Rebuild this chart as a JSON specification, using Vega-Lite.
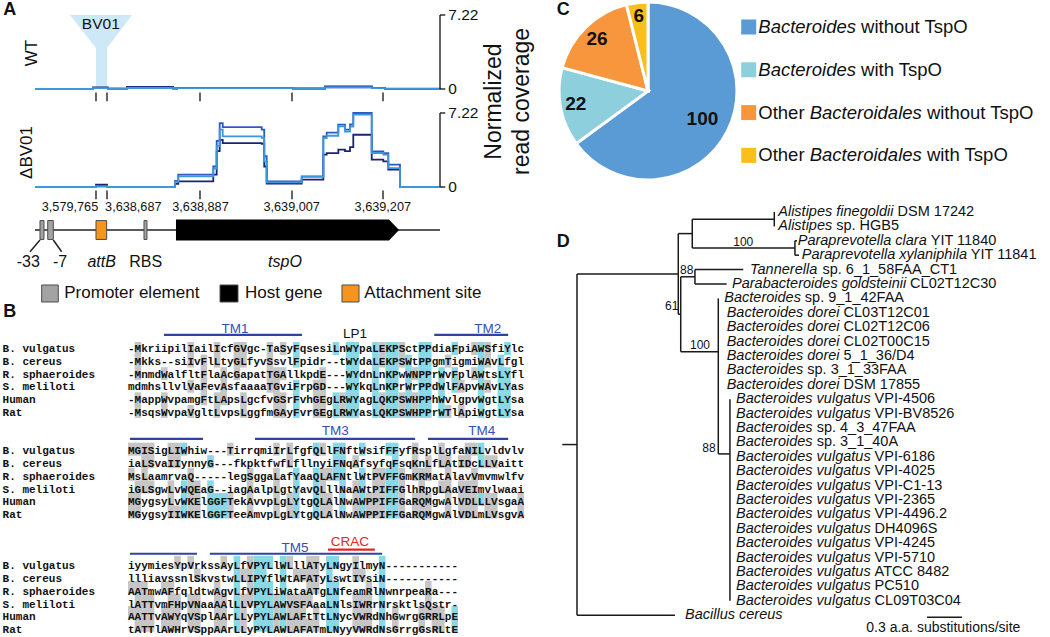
{
"$schema": "https://vega.github.io/schema/vega-lite/v6.json",
"width": 1050, "height": 637,
"autosize": {"type": "none"},
"padding": 0,
"background": "white",
"config": {"view": {"stroke": null}, "text": {"font": "Liberation Sans", "color": "#111111"}},
"resolve": {"scale": {"x": "independent", "y": "independent", "color": "independent", "theta": "independent", "radius": "independent"}},
"datasets": {
"funnel": [{"v":7.22,"l":8.64,"r":23.95},{"v":4.0,"l":15.06,"r":17.78},{"v":0,"l":15.06,"r":17.78}],
"wt": [
{"rep":"r1","b":0,"v":0},{"rep":"r1","b":14.3,"v":0.15},{"rep":"r1","b":18.0,"v":0.03},{"rep":"r1","b":22.7,"v":0.2},{"rep":"r1","b":34.1,"v":0.05},{"rep":"r1","b":35.1,"v":0.08},{"rep":"r1","b":63.7,"v":0.04},{"rep":"r1","b":71.6,"v":0.26},{"rep":"r1","b":83.2,"v":0.08},{"rep":"r1","b":86.4,"v":0.02},{"rep":"r1","b":100,"v":0},
{"rep":"r2","b":0,"v":0},{"rep":"r2","b":14.3,"v":0.1},{"rep":"r2","b":18.0,"v":0.03},{"rep":"r2","b":22.7,"v":0.12},{"rep":"r2","b":34.1,"v":0.06},{"rep":"r2","b":35.1,"v":0.1},{"rep":"r2","b":63.7,"v":0.05},{"rep":"r2","b":71.6,"v":0.17},{"rep":"r2","b":83.2,"v":0.1},{"rep":"r2","b":86.4,"v":0.03},{"rep":"r2","b":100,"v":0},
{"rep":"r3","b":0,"v":0},{"rep":"r3","b":14.3,"v":0.08},{"rep":"r3","b":18.0,"v":0.02},{"rep":"r3","b":22.7,"v":0.1},{"rep":"r3","b":34.1,"v":0.05},{"rep":"r3","b":35.1,"v":0.08},{"rep":"r3","b":63.7,"v":0.04},{"rep":"r3","b":71.6,"v":0.15},{"rep":"r3","b":83.2,"v":0.08},{"rep":"r3","b":86.4,"v":0.02},{"rep":"r3","b":100,"v":0}],
"db": [
{"rep":"r1","b":0,"v":0},{"rep":"r1","b":15.06,"v":0.23},{"rep":"r1","b":17.78,"v":0},{"rep":"r1","b":34.57,"v":0.3},{"rep":"r1","b":35.38,"v":0.55},{"rep":"r1","b":44.02,"v":1.2},{"rep":"r1","b":44.86,"v":3.5},{"rep":"r1","b":45.6,"v":4.6},{"rep":"r1","b":46.35,"v":4.29},{"rep":"r1","b":55.98,"v":4.2},{"rep":"r1","b":56.6,"v":2.0},{"rep":"r1","b":57.21,"v":0.33},{"rep":"r1","b":65.85,"v":0.72},{"rep":"r1","b":71.19,"v":3.15},{"rep":"r1","b":72.02,"v":3.3},{"rep":"r1","b":74.89,"v":3.64},{"rep":"r1","b":76.54,"v":3.5},{"rep":"r1","b":77.78,"v":3.9},{"rep":"r1","b":78.59,"v":5.1},{"rep":"r1","b":83.14,"v":2.67},{"rep":"r1","b":86.0,"v":2.5},{"rep":"r1","b":87.23,"v":1.69},{"rep":"r1","b":90.12,"v":0},{"rep":"r1","b":100,"v":0},
{"rep":"r2","b":0,"v":0},{"rep":"r2","b":15.06,"v":0.1},{"rep":"r2","b":17.78,"v":0},{"rep":"r2","b":34.57,"v":0.6},{"rep":"r2","b":35.38,"v":1.2},{"rep":"r2","b":44.02,"v":2.0},{"rep":"r2","b":44.86,"v":4.5},{"rep":"r2","b":45.6,"v":6.24},{"rep":"r2","b":46.35,"v":5.85},{"rep":"r2","b":55.98,"v":5.6},{"rep":"r2","b":56.6,"v":3.0},{"rep":"r2","b":57.21,"v":0.55},{"rep":"r2","b":65.85,"v":1.04},{"rep":"r2","b":71.19,"v":4.94},{"rep":"r2","b":72.02,"v":5.3},{"rep":"r2","b":74.89,"v":6.08},{"rep":"r2","b":76.54,"v":5.6},{"rep":"r2","b":77.78,"v":6.1},{"rep":"r2","b":78.59,"v":7.22},{"rep":"r2","b":83.14,"v":3.48},{"rep":"r2","b":86.0,"v":3.3},{"rep":"r2","b":87.23,"v":2.18},{"rep":"r2","b":90.12,"v":0},{"rep":"r2","b":100,"v":0},
{"rep":"r3","b":0,"v":0},{"rep":"r3","b":15.06,"v":0.05},{"rep":"r3","b":17.78,"v":0},{"rep":"r3","b":34.57,"v":0.5},{"rep":"r3","b":35.38,"v":1.04},{"rep":"r3","b":44.02,"v":1.8},{"rep":"r3","b":44.86,"v":4.0},{"rep":"r3","b":45.6,"v":5.6},{"rep":"r3","b":46.35,"v":4.94},{"rep":"r3","b":55.98,"v":4.8},{"rep":"r3","b":56.6,"v":2.5},{"rep":"r3","b":57.21,"v":0.45},{"rep":"r3","b":65.85,"v":0.98},{"rep":"r3","b":71.19,"v":4.78},{"rep":"r3","b":72.02,"v":5.0},{"rep":"r3","b":74.89,"v":5.92},{"rep":"r3","b":76.54,"v":5.4},{"rep":"r3","b":77.78,"v":5.9},{"rep":"r3","b":78.59,"v":7.06},{"rep":"r3","b":83.14,"v":3.32},{"rep":"r3","b":86.0,"v":3.15},{"rep":"r3","b":87.23,"v":1.85},{"rep":"r3","b":90.12,"v":0},{"rep":"r3","b":100,"v":0}],
"axr": [{"x":100,"x2":100,"y":0,"y2":7.22},{"x":100,"x2":101.3,"y":7.22,"y2":7.22},{"x":100,"x2":101.3,"y":0,"y2":0},{"x":15.06,"x2":15.06,"y":-0.35,"y2":-1.2},{"x":17.78,"x2":17.78,"y":-0.35,"y2":-1.2},{"x":40.74,"x2":40.74,"y":-0.35,"y2":-1.2},{"x":63.46,"x2":63.46,"y":-0.35,"y2":-1.2},{"x":85.93,"x2":85.93,"y":-0.35,"y2":-1.2}],
"axt": [{"x":102.05,"y":7.22,"t":"7.22"},{"x":102.05,"y":0,"t":"0"}],
"bv": [{"x":16.25,"y":6.32,"t":"BV01"}],
"glines": [{"x":0,"x2":100,"y":0,"y2":0},{"x":1.23,"x2":-1.23,"y":-1.11,"y2":-2.41},{"x":4.52,"x2":6.59,"y":-1.11,"y2":-2.41}],
"feat": [{"x":1.23,"x2":2.22,"y":-1.05,"y2":1.05,"k":"P"},{"x":3.14,"x2":4.52,"y":-1.05,"y2":1.05,"k":"P"},{"x":15.06,"x2":17.7,"y":-1.05,"y2":1.05,"k":"A"},{"x":26.91,"x2":27.65,"y":-1.05,"y2":1.05,"k":"P"},{"x":1.65,"x2":5.75,"y":-6.11,"y2":-8.0,"k":"P"},{"x":45.68,"x2":50.12,"y":-6.11,"y2":-8.0,"k":"H"},{"x":75.8,"x2":80.0,"y":-6.11,"y2":-8.0,"k":"A"}],
"arrow": [{"x":34.81,"lo":-1.17,"hi":1.17},{"x":87.41,"lo":-1.17,"hi":1.17},{"x":89.88,"lo":0,"hi":0}],
"gtick": [{"x":8.64,"t":"3,579,765"},{"x":24.27,"t":"3,638,687"},{"x":40.86,"t":"3,638,887"},{"x":63.38,"t":"3,639,007"},{"x":85.88,"t":"3,639,207"}],
"gfl": [{"x":-1.65,"t":"-33","it":0},{"x":6.17,"t":"-7","it":0},{"x":16.47,"t":"attB","it":1},{"x":27.33,"t":"RBS","it":0},{"x":61.73,"t":"tspO","it":1}],
"gleg": [{"x":7.23,"t":"Promoter element"},{"x":51.85,"t":"Host gene"},{"x":81.31,"t":"Attachment site"}],
"aln": [
{"l":0,"n":"B. vulgatus","q":"-MkriipilIailIcfGVgc-TaSyFqsesiLnWYpaLEKPSctPPdiaFpiAWSfiYlc"},
{"l":1,"n":"B. cereus","q":"-Mkks--siIvFlLtyGLfyvSsvlFpidr--tWYdaLEKPSWtPPgmTigmiWAvLfgl"},
{"l":2,"n":"R. sphaeroides","q":"-MnmdWalfltFlaAcGapatTGAllkpdE---WYdnLnKPwWNPPrWvFplAWtsLYfl"},
{"l":3,"n":"S. meliloti","q":"mdmhsllvlVaFevAsfaaaaTGviFrpGD---WYkqLnKPrWrPPdWlFApvWAvLYas"},
{"l":4,"n":"Human","q":"-MappWvpamgFtLApsLgcfvGSrFvhGEgLRWYagLQKPSWHPPhWvlgpvWgtLYsa"},
{"l":5,"n":"Rat","q":"-MsqsWvpaVgltLvpsLggfmGAyFvrGEgLRWYasLQKPSWHPPrWTlApiWgtLYsa"},
{"l":8,"n":"B. vulgatus","q":"MGISigLIWhiw---TirrqmiIrLfgfQLlFNftWsifFFyfRsplLgfaNILvldvlv"},
{"l":9,"n":"B. cereus","q":"iaLSvaIIynnyG---fkpktfwfLfllnyiFNqAfsyfqFsqKnLfLAtIDcLLVaitt"},
{"l":10,"n":"R. sphaeroides","q":"MsLaamrvaQ-----legSggaLafYaaQLAFNtlWtPVFFGmKRMatAlavVmvmwlfv"},
{"l":11,"n":"S. meliloti","q":"iGLSgwLvWQEaG--iagAalpLgtYavQLllNaAWtPIFFGlhRpgLAaVEImvlwaai"},
{"l":12,"n":"Human","q":"MGygsyLvWKElGGFTekAvvpLgLYtgQLAlNwAWPPIFFGaRQMgwAlVDLLLVsgaA"},
{"l":13,"n":"Rat","q":"MGygsyIIWKElGGFTeeAmvpLgLYtgQLAlNwAWPPIFFGaRQMgwAlVDLmLVsgvA"},
{"l":17,"n":"B. vulgatus","q":"iyymiesYpVrkssAyLfVPYLlWLllATyLNgyIlmyN-----------"},
{"l":18,"n":"B. cereus","q":"llliavssnlSkvstwLLIPYflWtAFATyLswtIYsiN-----------"},
{"l":19,"n":"R. sphaeroides","q":"AATmwAFfqldtwAgvLfVPYLiWataATgLNfeamRlNwnrpeaRa---"},
{"l":20,"n":"S. meliloti","q":"lATTvmFHpVNaaAAlLLVPYLAWVSFAaaLNlsIWRrNrsktlsQstr-"},
{"l":21,"n":"Human","q":"AATTvAWYqVSplAArLLyPYLAWLAFtTtLNycVWRdNhGwrgGRRLpE"},
{"l":22,"n":"Rat","q":"tATTlAWHrVSppAArLLyPYLAWLAFATmLNyyVWRdNsGrrgGsRLtE"}],
"hl": [
{"l":0,"s":1,"t":2,"h":"g"},{"l":0,"s":9,"t":10,"h":"g"},{"l":0,"s":13,"t":14,"h":"g"},{"l":0,"s":16,"t":18,"h":"g"},{"l":0,"s":21,"t":22,"h":"g"},{"l":0,"s":23,"t":24,"h":"g"},{"l":0,"s":25,"t":26,"h":"c"},{"l":0,"s":31,"t":32,"h":"c"},{"l":0,"s":33,"t":35,"h":"c"},{"l":0,"s":37,"t":38,"h":"c"},{"l":0,"s":38,"t":39,"h":"g"},{"l":0,"s":39,"t":41,"h":"c"},{"l":0,"s":41,"t":42,"h":"g"},{"l":0,"s":44,"t":46,"h":"c"},{"l":0,"s":49,"t":50,"h":"c"},{"l":0,"s":52,"t":53,"h":"g"},{"l":0,"s":53,"t":54,"h":"c"},{"l":0,"s":54,"t":55,"h":"g"},{"l":0,"s":57,"t":58,"h":"c"},
{"l":1,"s":1,"t":2,"h":"g"},{"l":1,"s":9,"t":10,"h":"g"},{"l":1,"s":11,"t":12,"h":"g"},{"l":1,"s":13,"t":14,"h":"g"},{"l":1,"s":16,"t":18,"h":"g"},{"l":1,"s":21,"t":22,"h":"g"},{"l":1,"s":25,"t":26,"h":"c"},{"l":1,"s":33,"t":35,"h":"c"},{"l":1,"s":37,"t":38,"h":"c"},{"l":1,"s":38,"t":39,"h":"g"},{"l":1,"s":39,"t":41,"h":"c"},{"l":1,"s":41,"t":42,"h":"g"},{"l":1,"s":42,"t":43,"h":"c"},{"l":1,"s":44,"t":46,"h":"c"},{"l":1,"s":48,"t":49,"h":"g"},{"l":1,"s":53,"t":54,"h":"c"},{"l":1,"s":54,"t":55,"h":"g"},{"l":1,"s":56,"t":57,"h":"c"},
{"l":2,"s":1,"t":2,"h":"g"},{"l":2,"s":5,"t":6,"h":"g"},{"l":2,"s":11,"t":12,"h":"g"},{"l":2,"s":14,"t":15,"h":"g"},{"l":2,"s":16,"t":17,"h":"g"},{"l":2,"s":21,"t":24,"h":"g"},{"l":2,"s":29,"t":30,"h":"g"},{"l":2,"s":33,"t":35,"h":"c"},{"l":2,"s":37,"t":38,"h":"c"},{"l":2,"s":39,"t":41,"h":"c"},{"l":2,"s":42,"t":43,"h":"c"},{"l":2,"s":43,"t":44,"h":"g"},{"l":2,"s":44,"t":46,"h":"c"},{"l":2,"s":47,"t":48,"h":"c"},{"l":2,"s":49,"t":50,"h":"c"},{"l":2,"s":52,"t":53,"h":"g"},{"l":2,"s":53,"t":54,"h":"c"},{"l":2,"s":56,"t":58,"h":"c"},
{"l":3,"s":9,"t":10,"h":"g"},{"l":3,"s":11,"t":12,"h":"g"},{"l":3,"s":14,"t":15,"h":"g"},{"l":3,"s":21,"t":23,"h":"g"},{"l":3,"s":25,"t":26,"h":"c"},{"l":3,"s":28,"t":30,"h":"g"},{"l":3,"s":33,"t":35,"h":"c"},{"l":3,"s":37,"t":38,"h":"c"},{"l":3,"s":39,"t":41,"h":"c"},{"l":3,"s":42,"t":43,"h":"c"},{"l":3,"s":44,"t":46,"h":"c"},{"l":3,"s":47,"t":48,"h":"c"},{"l":3,"s":49,"t":50,"h":"c"},{"l":3,"s":50,"t":51,"h":"g"},{"l":3,"s":53,"t":54,"h":"c"},{"l":3,"s":54,"t":55,"h":"g"},{"l":3,"s":56,"t":58,"h":"c"},
{"l":4,"s":1,"t":2,"h":"g"},{"l":4,"s":5,"t":6,"h":"g"},{"l":4,"s":11,"t":12,"h":"g"},{"l":4,"s":13,"t":15,"h":"g"},{"l":4,"s":17,"t":18,"h":"g"},{"l":4,"s":22,"t":24,"h":"g"},{"l":4,"s":25,"t":26,"h":"c"},{"l":4,"s":28,"t":30,"h":"g"},{"l":4,"s":31,"t":32,"h":"c"},{"l":4,"s":32,"t":33,"h":"g"},{"l":4,"s":33,"t":35,"h":"c"},{"l":4,"s":37,"t":38,"h":"c"},{"l":4,"s":38,"t":39,"h":"g"},{"l":4,"s":39,"t":41,"h":"c"},{"l":4,"s":41,"t":42,"h":"g"},{"l":4,"s":42,"t":43,"h":"c"},{"l":4,"s":43,"t":44,"h":"g"},{"l":4,"s":44,"t":46,"h":"c"},{"l":4,"s":47,"t":48,"h":"c"},{"l":4,"s":53,"t":54,"h":"c"},{"l":4,"s":56,"t":58,"h":"c"},
{"l":5,"s":1,"t":2,"h":"g"},{"l":5,"s":5,"t":6,"h":"g"},{"l":5,"s":9,"t":10,"h":"g"},{"l":5,"s":13,"t":14,"h":"g"},{"l":5,"s":17,"t":18,"h":"g"},{"l":5,"s":22,"t":24,"h":"g"},{"l":5,"s":25,"t":26,"h":"c"},{"l":5,"s":28,"t":30,"h":"g"},{"l":5,"s":31,"t":32,"h":"c"},{"l":5,"s":32,"t":33,"h":"g"},{"l":5,"s":33,"t":35,"h":"c"},{"l":5,"s":37,"t":38,"h":"c"},{"l":5,"s":38,"t":39,"h":"g"},{"l":5,"s":39,"t":41,"h":"c"},{"l":5,"s":41,"t":42,"h":"g"},{"l":5,"s":42,"t":43,"h":"c"},{"l":5,"s":43,"t":44,"h":"g"},{"l":5,"s":44,"t":46,"h":"c"},{"l":5,"s":47,"t":48,"h":"c"},{"l":5,"s":48,"t":49,"h":"g"},{"l":5,"s":50,"t":51,"h":"g"},{"l":5,"s":53,"t":54,"h":"c"},{"l":5,"s":56,"t":58,"h":"c"},
{"l":8,"s":0,"t":4,"h":"g"},{"l":8,"s":6,"t":8,"h":"g"},{"l":8,"s":8,"t":9,"h":"c"},{"l":8,"s":15,"t":16,"h":"g"},{"l":8,"s":22,"t":23,"h":"g"},{"l":8,"s":24,"t":25,"h":"g"},{"l":8,"s":28,"t":29,"h":"c"},{"l":8,"s":29,"t":30,"h":"g"},{"l":8,"s":31,"t":33,"h":"c"},{"l":8,"s":35,"t":36,"h":"c"},{"l":8,"s":39,"t":41,"h":"c"},{"l":8,"s":43,"t":44,"h":"g"},{"l":8,"s":47,"t":48,"h":"g"},{"l":8,"s":51,"t":53,"h":"g"},{"l":8,"s":53,"t":54,"h":"c"},
{"l":9,"s":2,"t":4,"h":"g"},{"l":9,"s":6,"t":8,"h":"g"},{"l":9,"s":12,"t":13,"h":"c"},{"l":9,"s":24,"t":25,"h":"g"},{"l":9,"s":31,"t":33,"h":"c"},{"l":9,"s":34,"t":35,"h":"g"},{"l":9,"s":40,"t":41,"h":"c"},{"l":9,"s":43,"t":44,"h":"g"},{"l":9,"s":45,"t":46,"h":"g"},{"l":9,"s":47,"t":49,"h":"g"},{"l":9,"s":50,"t":52,"h":"g"},{"l":9,"s":53,"t":54,"h":"c"},{"l":9,"s":54,"t":56,"h":"g"},
{"l":10,"s":0,"t":1,"h":"g"},{"l":10,"s":2,"t":3,"h":"g"},{"l":10,"s":9,"t":10,"h":"g"},{"l":10,"s":18,"t":19,"h":"g"},{"l":10,"s":22,"t":23,"h":"g"},{"l":10,"s":25,"t":26,"h":"c"},{"l":10,"s":28,"t":29,"h":"c"},{"l":10,"s":29,"t":31,"h":"g"},{"l":10,"s":31,"t":33,"h":"c"},{"l":10,"s":35,"t":36,"h":"c"},{"l":10,"s":37,"t":39,"h":"g"},{"l":10,"s":39,"t":41,"h":"c"},{"l":10,"s":41,"t":42,"h":"g"},{"l":10,"s":43,"t":46,"h":"g"},{"l":10,"s":48,"t":49,"h":"g"},{"l":10,"s":52,"t":53,"h":"g"},
{"l":11,"s":1,"t":4,"h":"g"},{"l":11,"s":6,"t":7,"h":"g"},{"l":11,"s":8,"t":9,"h":"c"},{"l":11,"s":9,"t":11,"h":"g"},{"l":11,"s":12,"t":13,"h":"c"},{"l":11,"s":18,"t":19,"h":"g"},{"l":11,"s":22,"t":23,"h":"g"},{"l":11,"s":25,"t":26,"h":"c"},{"l":11,"s":28,"t":29,"h":"c"},{"l":11,"s":29,"t":30,"h":"g"},{"l":11,"s":32,"t":33,"h":"c"},{"l":11,"s":34,"t":35,"h":"g"},{"l":11,"s":35,"t":36,"h":"c"},{"l":11,"s":37,"t":39,"h":"g"},{"l":11,"s":39,"t":41,"h":"c"},{"l":11,"s":41,"t":42,"h":"g"},{"l":11,"s":44,"t":45,"h":"g"},{"l":11,"s":47,"t":49,"h":"g"},{"l":11,"s":50,"t":53,"h":"g"},
{"l":12,"s":0,"t":2,"h":"g"},{"l":12,"s":6,"t":7,"h":"g"},{"l":12,"s":8,"t":9,"h":"c"},{"l":12,"s":9,"t":11,"h":"g"},{"l":12,"s":12,"t":15,"h":"c"},{"l":12,"s":15,"t":16,"h":"g"},{"l":12,"s":18,"t":19,"h":"g"},{"l":12,"s":22,"t":23,"h":"g"},{"l":12,"s":24,"t":25,"h":"g"},{"l":12,"s":25,"t":26,"h":"c"},{"l":12,"s":28,"t":29,"h":"c"},{"l":12,"s":29,"t":31,"h":"g"},{"l":12,"s":32,"t":33,"h":"c"},{"l":12,"s":34,"t":35,"h":"g"},{"l":12,"s":35,"t":36,"h":"c"},{"l":12,"s":36,"t":39,"h":"g"},{"l":12,"s":39,"t":41,"h":"c"},{"l":12,"s":41,"t":42,"h":"g"},{"l":12,"s":43,"t":46,"h":"g"},{"l":12,"s":48,"t":49,"h":"g"},{"l":12,"s":50,"t":53,"h":"g"},{"l":12,"s":53,"t":54,"h":"c"},{"l":12,"s":54,"t":56,"h":"g"},{"l":12,"s":59,"t":60,"h":"g"},
{"l":13,"s":0,"t":2,"h":"g"},{"l":13,"s":6,"t":8,"h":"g"},{"l":13,"s":8,"t":9,"h":"c"},{"l":13,"s":9,"t":11,"h":"g"},{"l":13,"s":12,"t":15,"h":"c"},{"l":13,"s":15,"t":16,"h":"g"},{"l":13,"s":18,"t":19,"h":"g"},{"l":13,"s":22,"t":23,"h":"g"},{"l":13,"s":24,"t":25,"h":"g"},{"l":13,"s":25,"t":26,"h":"c"},{"l":13,"s":28,"t":29,"h":"c"},{"l":13,"s":29,"t":31,"h":"g"},{"l":13,"s":32,"t":33,"h":"c"},{"l":13,"s":34,"t":35,"h":"g"},{"l":13,"s":35,"t":36,"h":"c"},{"l":13,"s":36,"t":39,"h":"g"},{"l":13,"s":39,"t":41,"h":"c"},{"l":13,"s":41,"t":42,"h":"g"},{"l":13,"s":43,"t":46,"h":"g"},{"l":13,"s":48,"t":49,"h":"g"},{"l":13,"s":50,"t":53,"h":"g"},{"l":13,"s":54,"t":56,"h":"g"},{"l":13,"s":59,"t":60,"h":"g"},
{"l":17,"s":7,"t":8,"h":"g"},{"l":17,"s":9,"t":10,"h":"g"},{"l":17,"s":14,"t":15,"h":"g"},{"l":17,"s":16,"t":17,"h":"c"},{"l":17,"s":18,"t":19,"h":"g"},{"l":17,"s":19,"t":22,"h":"c"},{"l":17,"s":23,"t":24,"h":"c"},{"l":17,"s":24,"t":25,"h":"g"},{"l":17,"s":27,"t":29,"h":"g"},{"l":17,"s":30,"t":32,"h":"c"},{"l":17,"s":34,"t":35,"h":"g"},{"l":17,"s":38,"t":39,"h":"c"},
{"l":18,"s":10,"t":11,"h":"g"},{"l":18,"s":16,"t":17,"h":"c"},{"l":18,"s":17,"t":19,"h":"g"},{"l":18,"s":19,"t":21,"h":"c"},{"l":18,"s":23,"t":24,"h":"c"},{"l":18,"s":25,"t":29,"h":"g"},{"l":18,"s":30,"t":31,"h":"c"},{"l":18,"s":34,"t":36,"h":"g"},{"l":18,"s":38,"t":39,"h":"c"},
{"l":19,"s":0,"t":3,"h":"g"},{"l":19,"s":5,"t":7,"h":"g"},{"l":19,"s":13,"t":14,"h":"g"},{"l":19,"s":16,"t":17,"h":"c"},{"l":19,"s":18,"t":19,"h":"g"},{"l":19,"s":19,"t":22,"h":"c"},{"l":19,"s":23,"t":24,"h":"c"},{"l":19,"s":27,"t":29,"h":"g"},{"l":19,"s":30,"t":32,"h":"c"},{"l":19,"s":36,"t":37,"h":"g"},{"l":19,"s":38,"t":39,"h":"c"},{"l":19,"s":45,"t":46,"h":"g"},
{"l":20,"s":1,"t":4,"h":"g"},{"l":20,"s":6,"t":8,"h":"g"},{"l":20,"s":9,"t":11,"h":"g"},{"l":20,"s":13,"t":15,"h":"g"},{"l":20,"s":16,"t":17,"h":"c"},{"l":20,"s":17,"t":19,"h":"g"},{"l":20,"s":19,"t":22,"h":"c"},{"l":20,"s":22,"t":23,"h":"g"},{"l":20,"s":23,"t":24,"h":"c"},{"l":20,"s":24,"t":28,"h":"g"},{"l":20,"s":30,"t":32,"h":"c"},{"l":20,"s":34,"t":37,"h":"g"},{"l":20,"s":38,"t":39,"h":"c"},{"l":20,"s":45,"t":46,"h":"g"},
{"l":21,"s":0,"t":4,"h":"g"},{"l":21,"s":5,"t":8,"h":"g"},{"l":21,"s":9,"t":11,"h":"g"},{"l":21,"s":13,"t":15,"h":"g"},{"l":21,"s":16,"t":17,"h":"c"},{"l":21,"s":17,"t":18,"h":"g"},{"l":21,"s":19,"t":22,"h":"c"},{"l":21,"s":22,"t":23,"h":"g"},{"l":21,"s":23,"t":24,"h":"c"},{"l":21,"s":24,"t":27,"h":"g"},{"l":21,"s":28,"t":29,"h":"g"},{"l":21,"s":30,"t":32,"h":"c"},{"l":21,"s":34,"t":37,"h":"g"},{"l":21,"s":38,"t":39,"h":"c"},{"l":21,"s":40,"t":41,"h":"g"},{"l":21,"s":44,"t":48,"h":"g"},{"l":21,"s":49,"t":50,"h":"c"},
{"l":22,"s":1,"t":4,"h":"g"},{"l":22,"s":5,"t":8,"h":"g"},{"l":22,"s":9,"t":11,"h":"g"},{"l":22,"s":13,"t":15,"h":"g"},{"l":22,"s":16,"t":17,"h":"c"},{"l":22,"s":17,"t":18,"h":"g"},{"l":22,"s":19,"t":22,"h":"c"},{"l":22,"s":22,"t":23,"h":"g"},{"l":22,"s":23,"t":24,"h":"c"},{"l":22,"s":24,"t":29,"h":"g"},{"l":22,"s":30,"t":32,"h":"c"},{"l":22,"s":34,"t":37,"h":"g"},{"l":22,"s":38,"t":39,"h":"c"},{"l":22,"s":40,"t":41,"h":"g"},{"l":22,"s":44,"t":45,"h":"g"},{"l":22,"s":46,"t":48,"h":"g"},{"l":22,"s":49,"t":50,"h":"c"}],
"tmr": [{"l":-1.1,"s":5.45,"t":26.36,"k":"TM"},{"l":-1.1,"s":46.4,"t":57.6,"k":"TM"},{"l":7.03,"s":0.3,"t":11.36,"k":"TM"},{"l":7.03,"s":19.24,"t":43.5,"k":"TM"},{"l":7.03,"s":45.45,"t":57.6,"k":"TM"},{"l":16.02,"s":0.3,"t":10.45,"k":"TM"},{"l":16.02,"s":12.4,"t":38.5,"k":"TM"},{"l":15.7,"s":30.3,"t":37.4,"k":"CRAC"}],
"tmt": [{"l":-1.56,"c":16.2,"t":"TM1","k":"TM"},{"l":-1.2,"c":34.4,"t":"LP1","k":"LP"},{"l":-1.56,"c":54.5,"t":"TM2","k":"TM"},{"l":6.43,"c":31.4,"t":"TM3","k":"TM"},{"l":6.43,"c":53.6,"t":"TM4","k":"TM"},{"l":15.55,"c":25.3,"t":"TM5","k":"TM"},{"l":15.1,"c":33.6,"t":"CRAC","k":"CRAC"}],
"pie": [{"cat":"Bacteroides without TspO","n":100,"o":1,"i":0},{"cat":"Bacteroides with TspO","n":22,"o":2,"i":1},{"cat":"Other Bacteroidales without TspO","n":26,"o":3,"i":2},{"cat":"Other Bacteroidales with TspO","n":6,"o":4,"i":3}],
"leg": [{"i":0,"x":1.2393,"t":"Bacteroides","it":1},{"i":0,"x":2.3944,"t":"without TspO","it":0},{"i":1,"x":1.2393,"t":"Bacteroides","it":1},{"i":1,"x":2.3944,"t":"with TspO","it":0},{"i":2,"x":1.2393,"t":"Other","it":0},{"i":2,"x":1.8169,"t":"Bacteroidales","it":1},{"i":2,"x":3.1337,"t":"without TspO","it":0},{"i":3,"x":1.2393,"t":"Other","it":0},{"i":3,"x":1.8169,"t":"Bacteroidales","it":1},{"i":3,"x":3.1337,"t":"with TspO","it":0}],
"tree": [{"x1":-0.126,"x2":0,"y1":16.15,"y2":16.15},{"x1":0,"x2":0,"y1":4.3,"y2":28},{"x1":0,"x2":0.868,"y1":4.3,"y2":4.3},{"x1":0,"x2":0.84,"y1":28,"y2":28},{"x1":0.868,"x2":0.868,"y1":1.5,"y2":7.1},{"x1":0.868,"x2":0.988,"y1":1.5,"y2":1.5},{"x1":0.868,"x2":0.889,"y1":7.1,"y2":7.1},{"x1":0.988,"x2":0.988,"y1":0.5,"y2":2.5},{"x1":0.988,"x2":1.691,"y1":0.5,"y2":0.5},{"x1":0.988,"x2":1.868,"y1":2.5,"y2":2.5},{"x1":1.691,"x2":1.691,"y1":0,"y2":1},{"x1":1.868,"x2":1.868,"y1":2,"y2":3},{"x1":1.868,"x2":1.886,"y1":2,"y2":2},{"x1":1.868,"x2":1.903,"y1":3,"y2":3},{"x1":0.889,"x2":0.889,"y1":4.5,"y2":9.7},{"x1":0.889,"x2":1.011,"y1":4.5,"y2":4.5},{"x1":0.889,"x2":1.211,"y1":9.7,"y2":9.7},{"x1":1.011,"x2":1.011,"y1":4,"y2":5},{"x1":1.011,"x2":1.425,"y1":4,"y2":4},{"x1":1.011,"x2":1.283,"y1":5,"y2":5},{"x1":1.211,"x2":1.211,"y1":6,"y2":16.8},{"x1":1.211,"x2":1.311,"y1":16.8,"y2":16.8},{"x1":1.311,"x2":1.311,"y1":13,"y2":27}],
"tips": [
{"i":0,"lx":1.725,"sx":2.748,"g":"Alistipes finegoldii","s":"DSM 17242"},
{"i":1,"lx":1.725,"sx":2.222,"g":"Alistipes","s":"sp. HGB5"},
{"i":2,"lx":1.892,"sx":3.032,"g":"Paraprevotella clara","s":"YIT 11840"},
{"i":3,"lx":1.926,"sx":3.376,"g":"Paraprevotella xylaniphila","s":"YIT 11841"},
{"i":4,"lx":1.483,"sx":2.104,"g":"Tannerella","s":"sp. 6_1_58FAA_CT1"},
{"i":5,"lx":1.329,"sx":2.855,"g":"Parabacteroides goldsteinii","s":"CL02T12C30"},
{"i":6,"lx":1.263,"sx":1.953,"g":"Bacteroides","s":"sp. 9_1_42FAA"},
{"i":7,"lx":1.283,"sx":2.285,"g":"Bacteroides dorei","s":"CL03T12C01"},
{"i":8,"lx":1.283,"sx":2.285,"g":"Bacteroides dorei","s":"CL02T12C06"},
{"i":9,"lx":1.283,"sx":2.285,"g":"Bacteroides dorei","s":"CL02T00C15"},
{"i":10,"lx":1.283,"sx":2.285,"g":"Bacteroides dorei","s":"5_1_36/D4"},
{"i":11,"lx":1.283,"sx":1.974,"g":"Bacteroides","s":"sp. 3_1_33FAA"},
{"i":12,"lx":1.283,"sx":2.285,"g":"Bacteroides dorei","s":"DSM 17855"},
{"i":13,"lx":1.363,"sx":2.551,"g":"Bacteroides vulgatus","s":"VPI-4506"},
{"i":14,"lx":1.363,"sx":2.551,"g":"Bacteroides vulgatus","s":"VPI-BV8526"},
{"i":15,"lx":1.363,"sx":2.054,"g":"Bacteroides","s":"sp. 4_3_47FAA"},
{"i":16,"lx":1.363,"sx":2.054,"g":"Bacteroides","s":"sp. 3_1_40A"},
{"i":17,"lx":1.363,"sx":2.551,"g":"Bacteroides vulgatus","s":"VPI-6186"},
{"i":18,"lx":1.363,"sx":2.551,"g":"Bacteroides vulgatus","s":"VPI-4025"},
{"i":19,"lx":1.363,"sx":2.551,"g":"Bacteroides vulgatus","s":"VPI-C1-13"},
{"i":20,"lx":1.363,"sx":2.551,"g":"Bacteroides vulgatus","s":"VPI-2365"},
{"i":21,"lx":1.363,"sx":2.551,"g":"Bacteroides vulgatus","s":"VPI-4496.2"},
{"i":22,"lx":1.363,"sx":2.551,"g":"Bacteroides vulgatus","s":"DH4096S"},
{"i":23,"lx":1.363,"sx":2.551,"g":"Bacteroides vulgatus","s":"VPI-4245"},
{"i":24,"lx":1.363,"sx":2.551,"g":"Bacteroides vulgatus","s":"VPI-5710"},
{"i":25,"lx":1.363,"sx":2.551,"g":"Bacteroides vulgatus","s":"ATCC 8482"},
{"i":26,"lx":1.363,"sx":2.551,"g":"Bacteroides vulgatus","s":"PC510"},
{"i":27,"lx":1.363,"sx":2.551,"g":"Bacteroides vulgatus","s":"CL09T03C04"},
{"i":28,"lx":0.926,"g":"Bacillus cereus"}],
"sup": [{"x":1.425,"y":2.08,"t":"100"},{"x":0.94,"y":4.03,"t":"88"},{"x":0.812,"y":6.53,"t":"61"},{"x":1.054,"y":9.25,"t":"100"},{"x":1.131,"y":16.41,"t":"88"}],
"sbar": [{"x1":3.0,"x2":3.3,"y":28.15,"tx":3.14,"ty":28.9,"t":"0.3 a.a. substitutions/site"}],
"letters": [{"x":-7.2438,"y":0.9101,"t":"A"},{"x":-7.2438,"y":-2.4798,"t":"B"},{"x":-1.0258,"y":0.9101,"t":"C"},{"x":-1.0258,"y":-1.6933,"t":"D"}],
"rot1": [{"x":-6.9191,"y":0.427,"t":"WT"},{"x":-6.9809,"y":-0.691,"t":"ΔBV01"}],
"rot2": [{"x":-1.7303,"y":-0.118,"t":"Normalized"},{"x":-1.4157,"y":-0.118,"t":"read coverage"}]
},
"layer": [
{"data":{"name":"funnel"},"mark":{"type":"area","orient":"horizontal","color":"#cde8f7","opacity":1},"encoding":{"y":{"field":"v","type":"quantitative","scale":{"domain":[-53.469,8.684],"nice":false,"zero":false},"axis":null},"x":{"field":"l","type":"quantitative","scale":{"domain":[-8.642,250.617],"nice":false,"zero":false},"axis":null},"x2":{"field":"r"}}},
{"data":{"name":"wt"},"mark":{"type":"line","interpolate":"step-after","strokeWidth":1.8},"encoding":{"x":{"field":"b","type":"quantitative","scale":{"domain":[-8.642,250.617],"nice":false,"zero":false},"axis":null},"y":{"field":"v","type":"quantitative","scale":{"domain":[-53.469,8.684],"nice":false,"zero":false},"axis":null},"color":{"field":"rep","type":"nominal","scale":{"domain":["r1","r2","r3"],"range":["#1c2470","#2c5ac4","#3c97dd"]},"legend":null}}},
{"data":{"name":"axr"},"mark":{"type":"rule","color":"#111111","strokeWidth":1.3},"encoding":{"x":{"field":"x","type":"quantitative","scale":{"domain":[-8.642,250.617],"nice":false,"zero":false},"axis":null},"x2":{"field":"x2"},"y":{"field":"y","type":"quantitative","scale":{"domain":[-53.469,8.684],"nice":false,"zero":false},"axis":null},"y2":{"field":"y2"}}},
{"data":{"name":"axt"},"mark":{"type":"text","align":"left","baseline":"middle","fontSize":15.5},"encoding":{"x":{"field":"x","type":"quantitative","scale":{"domain":[-8.642,250.617],"nice":false,"zero":false},"axis":null},"y":{"field":"y","type":"quantitative","scale":{"domain":[-53.469,8.684],"nice":false,"zero":false},"axis":null},"text":{"field":"t"}}},
{"data":{"name":"bv"},"mark":{"type":"text","align":"center","baseline":"middle","fontSize":15.5},"encoding":{"x":{"field":"x","type":"quantitative","scale":{"domain":[-8.642,250.617],"nice":false,"zero":false},"axis":null},"y":{"field":"y","type":"quantitative","scale":{"domain":[-53.469,8.684],"nice":false,"zero":false},"axis":null},"text":{"field":"t"}}},
{"data":{"name":"db"},"mark":{"type":"line","interpolate":"step-after","strokeWidth":1.8},"encoding":{"x":{"field":"b","type":"quantitative","scale":{"domain":[-8.642,250.617],"nice":false,"zero":false},"axis":null},"y":{"field":"v","type":"quantitative","scale":{"domain":[-43.907,18.246],"nice":false,"zero":false},"axis":null},"color":{"field":"rep","type":"nominal","scale":{"domain":["r1","r2","r3"],"range":["#1c2470","#2c5ac4","#3c97dd"]},"legend":null}}},
{"data":{"name":"axr"},"mark":{"type":"rule","color":"#111111","strokeWidth":1.3},"encoding":{"x":{"field":"x","type":"quantitative","scale":{"domain":[-8.642,250.617],"nice":false,"zero":false},"axis":null},"x2":{"field":"x2"},"y":{"field":"y","type":"quantitative","scale":{"domain":[-43.907,18.246],"nice":false,"zero":false},"axis":null},"y2":{"field":"y2"}}},
{"data":{"name":"axt"},"mark":{"type":"text","align":"left","baseline":"middle","fontSize":15.5},"encoding":{"x":{"field":"x","type":"quantitative","scale":{"domain":[-8.642,250.617],"nice":false,"zero":false},"axis":null},"y":{"field":"y","type":"quantitative","scale":{"domain":[-43.907,18.246],"nice":false,"zero":false},"axis":null},"text":{"field":"t"}}},
{"data":{"name":"glines"},"mark":{"type":"rule","color":"#222222","strokeWidth":1.5},"encoding":{"x":{"field":"x","type":"quantitative","scale":{"domain":[-8.642,250.617],"nice":false,"zero":false},"axis":null},"x2":{"field":"x2"},"y":{"field":"y","type":"quantitative","scale":{"domain":[-45.222,25.556],"nice":false,"zero":false},"axis":null},"y2":{"field":"y2"}}},
{"data":{"name":"feat"},"mark":{"type":"rect","stroke":"#4d4d4d","strokeWidth":1},"encoding":{"x":{"field":"x","type":"quantitative","scale":{"domain":[-8.642,250.617],"nice":false,"zero":false},"axis":null},"x2":{"field":"x2"},"y":{"field":"y","type":"quantitative","scale":{"domain":[-45.222,25.556],"nice":false,"zero":false},"axis":null},"y2":{"field":"y2"},"color":{"field":"k","type":"nominal","scale":{"domain":["P","H","A"],"range":["#a3a3a3","#000000","#f7941d"]},"legend":null}}},
{"data":{"name":"arrow"},"mark":{"type":"area","color":"#000000","opacity":1},"encoding":{"x":{"field":"x","type":"quantitative","scale":{"domain":[-8.642,250.617],"nice":false,"zero":false},"axis":null},"y":{"field":"lo","type":"quantitative","scale":{"domain":[-45.222,25.556],"nice":false,"zero":false},"axis":null},"y2":{"field":"hi"}}},
{"data":{"name":"gtick"},"mark":{"type":"text","align":"center","baseline":"middle","fontSize":12.7},"encoding":{"x":{"field":"x","type":"quantitative","scale":{"domain":[-8.642,250.617],"nice":false,"zero":false},"axis":null},"y":{"datum":2.59,"type":"quantitative","scale":{"domain":[-45.222,25.556],"nice":false,"zero":false},"axis":null},"text":{"field":"t"}}},
{"data":{"name":"gfl"},"transform":[{"filter":"datum.it == 0"}],"mark":{"type":"text","align":"center","baseline":"middle","fontSize":16},"encoding":{"x":{"field":"x","type":"quantitative","scale":{"domain":[-8.642,250.617],"nice":false,"zero":false},"axis":null},"y":{"datum":-3.56,"type":"quantitative","scale":{"domain":[-45.222,25.556],"nice":false,"zero":false},"axis":null},"text":{"field":"t"}}},
{"data":{"name":"gfl"},"transform":[{"filter":"datum.it == 1"}],"mark":{"type":"text","align":"center","baseline":"middle","fontSize":16,"fontStyle":"italic"},"encoding":{"x":{"field":"x","type":"quantitative","scale":{"domain":[-8.642,250.617],"nice":false,"zero":false},"axis":null},"y":{"datum":-3.56,"type":"quantitative","scale":{"domain":[-45.222,25.556],"nice":false,"zero":false},"axis":null},"text":{"field":"t"}}},
{"data":{"name":"gleg"},"mark":{"type":"text","align":"left","baseline":"middle","fontSize":17},"encoding":{"x":{"field":"x","type":"quantitative","scale":{"domain":[-8.642,250.617],"nice":false,"zero":false},"axis":null},"y":{"datum":-7.04,"type":"quantitative","scale":{"domain":[-45.222,25.556],"nice":false,"zero":false},"axis":null},"text":{"field":"t"}}},
{"data":{"name":"hl"},"mark":{"type":"bar","orient":"horizontal","size":13},"encoding":{"x":{"field":"s","type":"quantitative","scale":{"domain":[-19.394,139.697],"nice":false,"zero":false},"axis":null},"x2":{"field":"t"},"y":{"field":"l","type":"quantitative","scale":{"domain":[-27.308,22.535],"nice":false,"zero":false,"reverse":true},"axis":null},"color":{"field":"h","type":"nominal","scale":{"domain":["g","c"],"range":["#c6c6c6","#8ad8e6"]},"legend":null}}},
{"data":{"name":"aln"},"mark":{"type":"text","align":"left","baseline":"middle","font":"Liberation Mono","fontSize":11,"fontWeight":"bold"},"encoding":{"x":{"datum":0,"type":"quantitative","scale":{"domain":[-19.394,139.697],"nice":false,"zero":false},"axis":null},"y":{"field":"l","type":"quantitative","scale":{"domain":[-27.308,22.535],"nice":false,"zero":false,"reverse":true},"axis":null},"text":{"field":"q"}}},
{"data":{"name":"aln"},"mark":{"type":"text","align":"left","baseline":"middle","font":"Liberation Mono","fontSize":11,"fontWeight":"bold"},"encoding":{"x":{"datum":-19.0,"type":"quantitative","scale":{"domain":[-19.394,139.697],"nice":false,"zero":false},"axis":null},"y":{"field":"l","type":"quantitative","scale":{"domain":[-27.308,22.535],"nice":false,"zero":false,"reverse":true},"axis":null},"text":{"field":"n"}}},
{"data":{"name":"tmr"},"mark":{"type":"rule","strokeWidth":2.2},"encoding":{"x":{"field":"s","type":"quantitative","scale":{"domain":[-19.394,139.697],"nice":false,"zero":false},"axis":null},"x2":{"field":"t"},"y":{"field":"l","type":"quantitative","scale":{"domain":[-27.308,22.535],"nice":false,"zero":false,"reverse":true},"axis":null},"color":{"field":"k","type":"nominal","scale":{"domain":["TM","CRAC"],"range":["#2d43a6","#e52521"]},"legend":null}}},
{"data":{"name":"tmt"},"mark":{"type":"text","align":"center","baseline":"middle","fontSize":13.5},"encoding":{"x":{"field":"c","type":"quantitative","scale":{"domain":[-19.394,139.697],"nice":false,"zero":false},"axis":null},"y":{"field":"l","type":"quantitative","scale":{"domain":[-27.308,22.535],"nice":false,"zero":false,"reverse":true},"axis":null},"text":{"field":"t"},"color":{"field":"k","type":"nominal","scale":{"domain":["TM","LP","CRAC"],"range":["#3550b5","#111111","#e52521"]},"legend":null}}},
{"data":{"name":"pie"},"mark":{"type":"arc","outerRadius":89,"stroke":"#ffffff","strokeWidth":3},"encoding":{"x":{"datum":0,"type":"quantitative","scale":{"domain":[-7.2809,4.5169],"nice":false,"zero":false},"axis":null},"y":{"datum":0,"type":"quantitative","scale":{"domain":[-6.1348,1.0225],"nice":false,"zero":false},"axis":null},"theta":{"field":"n","type":"quantitative","stack":true},"order":{"field":"o","type":"quantitative"},"color":{"field":"cat","type":"nominal","scale":{"domain":["Bacteroides without TspO","Bacteroides with TspO","Other Bacteroidales without TspO","Other Bacteroidales with TspO"],"range":["#5b9bd5","#8dcfdc","#f7963c","#fbbf1c"]},"legend":null}}},
{"data":{"name":"pie"},"mark":{"type":"text","fontSize":19,"fontWeight":"bold","align":"center","baseline":"middle"},"encoding":{"x":{"datum":0,"type":"quantitative","scale":{"domain":[-7.2809,4.5169],"nice":false,"zero":false},"axis":null},"y":{"datum":0,"type":"quantitative","scale":{"domain":[-6.1348,1.0225],"nice":false,"zero":false},"axis":null},"theta":{"field":"n","type":"quantitative","stack":true},"order":{"field":"o","type":"quantitative"},"radius":{"field":"n","type":"quantitative","scale":{"type":"linear","domain":[6,100],"range":[76,61],"zero":false}},"text":{"field":"n"}}},
{"data":{"name":"pie"},"mark":{"type":"point","shape":"square","filled":true,"size":225,"opacity":1},"encoding":{"x":{"datum":1.1315,"type":"quantitative","scale":{"domain":[-7.2809,4.5169],"nice":false,"zero":false},"axis":null},"y":{"field":"i","type":"quantitative","scale":{"domain":[-0.6308,14.2523],"nice":false,"zero":false,"reverse":true},"axis":null},"color":{"field":"cat","type":"nominal","scale":{"domain":["Bacteroides without TspO","Bacteroides with TspO","Other Bacteroidales without TspO","Other Bacteroidales with TspO"],"range":["#5b9bd5","#8dcfdc","#f7963c","#fbbf1c"]},"legend":null}}},
{"data":{"name":"leg"},"transform":[{"filter":"datum.it == 0"}],"mark":{"type":"text","align":"left","baseline":"middle","fontSize":18.5},"encoding":{"x":{"field":"x","type":"quantitative","scale":{"domain":[-7.2809,4.5169],"nice":false,"zero":false},"axis":null},"y":{"field":"i","type":"quantitative","scale":{"domain":[-0.6308,14.2523],"nice":false,"zero":false,"reverse":true},"axis":null},"text":{"field":"t"}}},
{"data":{"name":"leg"},"transform":[{"filter":"datum.it == 1"}],"mark":{"type":"text","align":"left","baseline":"middle","fontSize":18.5,"fontStyle":"italic"},"encoding":{"x":{"field":"x","type":"quantitative","scale":{"domain":[-7.2809,4.5169],"nice":false,"zero":false},"axis":null},"y":{"field":"i","type":"quantitative","scale":{"domain":[-0.6308,14.2523],"nice":false,"zero":false,"reverse":true},"axis":null},"text":{"field":"t"}}},
{"data":{"name":"tree"},"mark":{"type":"rule","color":"#1a1a1a","strokeWidth":1.5},"encoding":{"x":{"field":"x1","type":"quantitative","scale":{"domain":[-4.9456,4.0542],"nice":false,"zero":false},"axis":null},"x2":{"field":"x2"},"y":{"field":"y1","type":"quantitative","scale":{"domain":[-14.722,29.514],"nice":false,"zero":false,"reverse":true},"axis":null},"y2":{"field":"y2"}}},
{"data":{"name":"tips"},"mark":{"type":"text","align":"left","baseline":"middle","fontSize":14.5,"fontStyle":"italic"},"encoding":{"x":{"field":"lx","type":"quantitative","scale":{"domain":[-4.9456,4.0542],"nice":false,"zero":false},"axis":null},"y":{"field":"i","type":"quantitative","scale":{"domain":[-14.722,29.514],"nice":false,"zero":false,"reverse":true},"axis":null},"text":{"field":"g"}}},
{"data":{"name":"tips"},"transform":[{"filter":{"field":"sx","valid":true}}],"mark":{"type":"text","align":"left","baseline":"middle","fontSize":14.5},"encoding":{"x":{"field":"sx","type":"quantitative","scale":{"domain":[-4.9456,4.0542],"nice":false,"zero":false},"axis":null},"y":{"field":"i","type":"quantitative","scale":{"domain":[-14.722,29.514],"nice":false,"zero":false,"reverse":true},"axis":null},"text":{"field":"s"}}},
{"data":{"name":"sup"},"mark":{"type":"text","align":"center","baseline":"middle","fontSize":12},"encoding":{"x":{"field":"x","type":"quantitative","scale":{"domain":[-4.9456,4.0542],"nice":false,"zero":false},"axis":null},"y":{"field":"y","type":"quantitative","scale":{"domain":[-14.722,29.514],"nice":false,"zero":false,"reverse":true},"axis":null},"text":{"field":"t"}}},
{"data":{"name":"sbar"},"mark":{"type":"rule","color":"#1a1a1a","strokeWidth":1.5},"encoding":{"x":{"field":"x1","type":"quantitative","scale":{"domain":[-4.9456,4.0542],"nice":false,"zero":false},"axis":null},"x2":{"field":"x2"},"y":{"field":"y","type":"quantitative","scale":{"domain":[-14.722,29.514],"nice":false,"zero":false,"reverse":true},"axis":null}}},
{"data":{"name":"sbar"},"mark":{"type":"text","align":"center","baseline":"middle","fontSize":14},"encoding":{"x":{"field":"tx","type":"quantitative","scale":{"domain":[-4.9456,4.0542],"nice":false,"zero":false},"axis":null},"y":{"field":"ty","type":"quantitative","scale":{"domain":[-14.722,29.514],"nice":false,"zero":false,"reverse":true},"axis":null},"text":{"field":"t"}}},
{"data":{"name":"letters"},"mark":{"type":"text","align":"left","baseline":"middle","fontSize":18,"fontWeight":"bold"},"encoding":{"x":{"field":"x","type":"quantitative","scale":{"domain":[-7.2809,4.5169],"nice":false,"zero":false},"axis":null},"y":{"field":"y","type":"quantitative","scale":{"domain":[-6.1348,1.0225],"nice":false,"zero":false},"axis":null},"text":{"field":"t"}}},
{"data":{"name":"rot1"},"mark":{"type":"text","align":"center","baseline":"middle","fontSize":17,"angle":270},"encoding":{"x":{"field":"x","type":"quantitative","scale":{"domain":[-7.2809,4.5169],"nice":false,"zero":false},"axis":null},"y":{"field":"y","type":"quantitative","scale":{"domain":[-6.1348,1.0225],"nice":false,"zero":false},"axis":null},"text":{"field":"t"}}},
{"data":{"name":"rot2"},"mark":{"type":"text","align":"center","baseline":"middle","fontSize":23,"angle":270},"encoding":{"x":{"field":"x","type":"quantitative","scale":{"domain":[-7.2809,4.5169],"nice":false,"zero":false},"axis":null},"y":{"field":"y","type":"quantitative","scale":{"domain":[-6.1348,1.0225],"nice":false,"zero":false},"axis":null},"text":{"field":"t"}}}
]
}
